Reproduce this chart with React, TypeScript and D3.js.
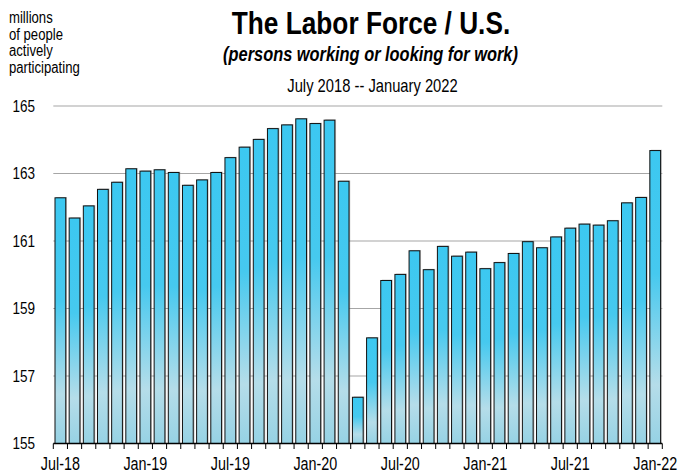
import React from "react";
import * as d3 from "d3";

const months: string[] = [
  "Jul-18","Aug-18","Sep-18","Oct-18","Nov-18","Dec-18",
  "Jan-19","Feb-19","Mar-19","Apr-19","May-19","Jun-19",
  "Jul-19","Aug-19","Sep-19","Oct-19","Nov-19","Dec-19",
  "Jan-20","Feb-20","Mar-20","Apr-20","May-20","Jun-20",
  "Jul-20","Aug-20","Sep-20","Oct-20","Nov-20","Dec-20",
  "Jan-21","Feb-21","Mar-21","Apr-21","May-21","Jun-21",
  "Jul-21","Aug-21","Sep-21","Oct-21","Nov-21","Dec-21",
  "Jan-22",
];

const laborForce: number[] = [
  162.28, 161.68, 162.04, 162.53, 162.74, 163.14,
  163.07, 163.11, 163.03, 162.65, 162.81, 163.03,
  163.47, 163.78, 164.01, 164.33, 164.44, 164.62,
  164.48, 164.58, 162.77, 156.37, 158.13, 159.83,
  160.01, 160.71, 160.15, 160.84, 160.55, 160.67,
  160.18, 160.36, 160.63, 160.98, 160.80, 161.12,
  161.38, 161.50, 161.47, 161.60, 162.13, 162.29,
  163.68,
];

const xLabels: string[] = ["Jul-18","Jan-19","Jul-19","Jan-20","Jul-20","Jan-21","Jul-21","Jan-22"];
const yTicks: number[] = [155, 157, 159, 161, 163, 165];
const unitLines: string[] = ["millions", "of people", "actively", "participating"];

const W = 680;
const H = 473;
const FONT = "'Liberation Sans', Arial, sans-serif";
const NARROW = 0.82;

type NTProps = {
  x: number;
  y: number;
  size: number;
  anchor?: "start" | "middle" | "end";
  weight?: string;
  italic?: boolean;
  dy?: string;
  children: React.ReactNode;
};

function NText({ x, y, size, anchor = "start", weight = "normal", italic = false, dy, children }: NTProps) {
  return (
    <text
      transform={`translate(${x},${y}) scale(${NARROW},1)`}
      textAnchor={anchor}
      fontSize={size}
      fontWeight={weight}
      fontStyle={italic ? "italic" : "normal"}
      dy={dy}
      fill="#000"
    >
      {children}
    </text>
  );
}

export default function App() {
  const x0 = 53.3;
  const x1 = 662.3;
  const x = d3.scaleBand<string>().domain(months).range([x0, x1]).paddingInner(0.24).paddingOuter(0.12);
  const y = d3.scaleLinear().domain([155, 165]).range([443.5, 106]);
  const step = x.step();
  const boundaries = d3.range(months.length + 1).map((i) => x0 + i * step);

  return (
    <svg width={W} height={H} style={{ position: "absolute", left: 0, top: 0, background: "#fff" }} fontFamily={FONT}>
      <defs>
        <linearGradient id="barGrad" x1="0" y1="0" x2="0" y2="1">
          <stop offset="0" stopColor="#3cc8f1" />
          <stop offset="0.42" stopColor="#46c9ef" />
          <stop offset="0.8" stopColor="#b5dde9" />
          <stop offset="1" stopColor="#96d2e4" />
        </linearGradient>
      </defs>
      {yTicks.filter((t) => t !== 155).map((t) => (
        <line key={t} x1={x0} x2={x1} y1={y(t)} y2={y(t)} stroke="#a6a6a6" strokeWidth={1.2} />
      ))}
      {yTicks.map((t) => (
        <NText key={t} x={35} y={y(t)} dy="0.36em" anchor="end" size={16.5}>{t}</NText>
      ))}
      {months.map((m, i) => {
        const bx = x(m)!;
        const by = y(laborForce[i]);
        const bh = y(155) - by;
        return (
          <g key={m}>
            <rect x={bx + 1.2} y={by - 0.8} width={x.bandwidth()} height={bh + 0.8} fill="#8a8a8a" opacity={0.55} />
            <rect x={bx} y={by} width={x.bandwidth()} height={bh} fill="url(#barGrad)" stroke="#111" strokeWidth={1} />
          </g>
        );
      })}
      <line x1={x0} x2={x1} y1={443.5} y2={443.5} stroke="#000" strokeWidth={1.3} />
      {boundaries.map((bx, i) => (
        <line key={i} x1={bx} x2={bx} y1={443.5} y2={449} stroke="#000" strokeWidth={1} />
      ))}
      {xLabels.map((l) => (
        <NText key={l} x={x(l)! + x.bandwidth() / 2} y={470} anchor="middle" size={17.5}>{l}</NText>
      ))}
      {unitLines.map((t, i) => (
        <NText key={t} x={9} y={22.7 + i * 16.8} size={16}>{t}</NText>
      ))}
      <NText x={371} y={34.3} anchor="middle" size={32} weight="bold">The Labor Force / U.S.</NText>
      <NText x={370.5} y={60.5} anchor="middle" size={20} weight="bold" italic>(persons working or looking for work)</NText>
      <NText x={372.5} y={91.5} anchor="middle" size={18}>July 2018 -- January 2022</NText>
    </svg>
  );
}
